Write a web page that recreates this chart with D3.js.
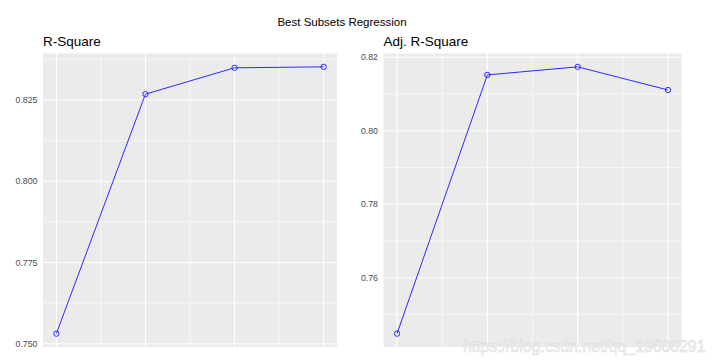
<!DOCTYPE html>
<html>
<head>
<meta charset="utf-8">
<script src="https://cdn.jsdelivr.net/npm/d3@7"></script>
<style>
body{margin:0;background:#fff;}
</style>
</head>
<body>
<div id="chart"></div>
<script>
var predictors = [1, 2, 3, 4];
var rsq = [0.7531, 0.8268, 0.8349, 0.8352];
var adjRsq = [0.7448, 0.8152, 0.8174, 0.8111];
var rsqTicks = [0.750, 0.775, 0.800, 0.825];
var adjTicks = [0.76, 0.78, 0.80, 0.82];

var width = 714, height = 363;
var font = "'Liberation Sans', Arial, sans-serif";

var svg = d3.select("#chart")
    .append("svg")
    .attr("width", width)
    .attr("height", height)
    .attr("font-family", font);

svg.append("rect").attr("width", width).attr("height", height).attr("fill", "#fff");

svg.append("text")
    .attr("x", 342).attr("y", 26)
    .attr("text-anchor", "middle")
    .attr("font-size", 11.5)
    .attr("fill", "#000")
    .text("Best Subsets Regression");

function panel(opt){
    var x0 = opt.left, x1 = opt.right, y0 = 53.5, y1 = 347;
    var ext = d3.extent(opt.values);
    var pad = (ext[1] - ext[0]) * 0.05;
    var x = d3.scaleLinear().domain([0.85, 4.15]).range([x0, x1]);
    var y = d3.scaleLinear().domain([ext[0] - pad, ext[1] + pad]).range([y1, y0]);
    var step = opt.ticks[1] - opt.ticks[0];
    var g = svg.append("g");

    g.append("text")
        .attr("x", x0).attr("y", 46)
        .attr("font-size", 13.5)
        .attr("fill", "#000")
        .text(opt.title);

    g.append("rect")
        .attr("x", x0).attr("y", y0)
        .attr("width", x1 - x0).attr("height", y1 - y0)
        .attr("fill", "#ebebeb");

    // minor grid
    var minorY = opt.ticks.map(t => t - step / 2).concat([opt.ticks[opt.ticks.length - 1] + step / 2])
        .filter(v => y(v) >= y0 && y(v) <= y1);
    g.selectAll(".minY").data(minorY).enter().append("line")
        .attr("x1", x0).attr("x2", x1)
        .attr("y1", d => y(d)).attr("y2", d => y(d))
        .attr("stroke", "#fff").attr("stroke-width", 0.6);
    g.selectAll(".minX").data([1.5, 2.5, 3.5]).enter().append("line")
        .attr("y1", y0).attr("y2", y1)
        .attr("x1", d => x(d)).attr("x2", d => x(d))
        .attr("stroke", "#fff").attr("stroke-width", 0.6);

    // major grid
    g.selectAll(".majY").data(opt.ticks).enter().append("line")
        .attr("x1", x0).attr("x2", x1)
        .attr("y1", d => y(d)).attr("y2", d => y(d))
        .attr("stroke", "#fff").attr("stroke-width", 1.1);
    g.selectAll(".majX").data(predictors).enter().append("line")
        .attr("y1", y0).attr("y2", y1)
        .attr("x1", d => x(d)).attr("x2", d => x(d))
        .attr("stroke", "#fff").attr("stroke-width", 1.1);

    // y labels
    g.selectAll(".lab").data(opt.ticks).enter().append("text")
        .attr("x", x0 - 5.5).attr("y", d => y(d))
        .attr("dy", "0.35em")
        .attr("text-anchor", "end")
        .attr("font-size", 8.8)
        .attr("fill", "#4d4d4d")
        .text(d => opt.fmt(d));

    var pts = predictors.map((p, i) => [p, opt.values[i]]);
    var line = d3.line().x(d => x(d[0])).y(d => y(d[1]));
    g.append("path")
        .attr("d", line(pts))
        .attr("fill", "none")
        .attr("stroke", "#2b2bff")
        .attr("stroke-width", 1);
    g.selectAll(".pt").data(pts).enter().append("circle")
        .attr("cx", d => x(d[0])).attr("cy", d => y(d[1]))
        .attr("r", 2.7)
        .attr("fill", "none")
        .attr("stroke", "#2b2bff")
        .attr("stroke-width", 1);
}

panel({left: 43, right: 337, values: rsq, ticks: rsqTicks, title: "R-Square", fmt: d3.format(".3f")});
panel({left: 383.5, right: 681.5, values: adjRsq, ticks: adjTicks, title: "Adj. R-Square", fmt: d3.format(".2f")});

// watermark
svg.append("text")
    .attr("x", 463).attr("y", 352)
    .attr("font-size", 15.8)
    .attr("fill", "#f7f7f7")
    .attr("fill-opacity", 0.9)
    .attr("stroke", "#cfcfcf")
    .attr("stroke-width", 0.4)
    .text("https://blog.csdn.net/qq_19600291");
</script>
</body>
</html>
